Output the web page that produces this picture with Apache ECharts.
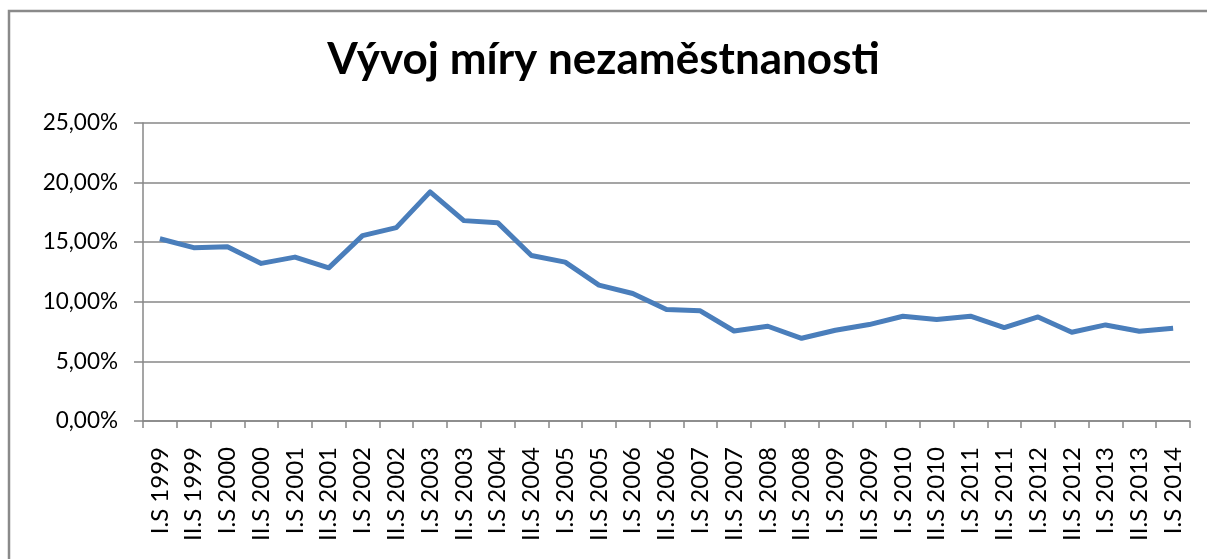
<!DOCTYPE html>
<html>
<head>
<meta charset="utf-8">
<script src="https://cdn.jsdelivr.net/npm/echarts@6/dist/echarts.min.js"></script>
<style>
html,body{margin:0;padding:0;background:#fff;}
#chart{width:1207px;height:559px;}
</style>
</head>
<body>
<div id="chart"></div>
<script>
const categories = [
  'I.S 1999','II.S 1999','I.S 2000','II.S 2000','I.S 2001','II.S 2001',
  'I.S 2002','II.S 2002','I.S 2003','II.S 2003','I.S 2004','II.S 2004',
  'I.S 2005','II.S 2005','I.S 2006','II.S 2006','I.S 2007','II.S 2007',
  'I.S 2008','II.S 2008','I.S 2009','II.S 2009','I.S 2010','II.S 2010',
  'I.S 2011','II.S 2011','I.S 2012','II.S 2012','I.S 2013','II.S 2013',
  'I.S 2014'
];
const unemployment = [
  15.29, 14.54, 14.62, 13.22, 13.75, 12.85,
  15.55, 16.22, 19.22, 16.81, 16.64, 13.88,
  13.33, 11.40, 10.70, 9.35, 9.24, 7.55,
  7.95, 6.94, 7.61, 8.09, 8.79, 8.51,
  8.79, 7.84, 8.73, 7.44, 8.06, 7.53,
  7.78
];
const yTicks = { min: 0, max: 25, interval: 5 };
const titleText = 'Vývoj míry nezaměstnanosti';

const chart = echarts.init(document.getElementById('chart'), null, {renderer: 'canvas'});
const gray = '#878787';
chart.setOption({
  animation: false,
  backgroundColor: '#ffffff',
  graphic: [{
    type: 'rect',
    shape: { x: 9, y: 11, width: 1210, height: 560 },
    style: { fill: 'none', stroke: '#8a8a8a', lineWidth: 2.5 },
    silent: true
  }],
  title: {
    text: titleText,
    left: 'center',
    top: 33,
    textStyle: { fontFamily: 'Lato', fontWeight: 'bold', fontSize: 44, color: '#000' }
  },
  grid: { left: 143, right: 17, top: 123, bottom: 138, containLabel: false },
  xAxis: {
    type: 'category',
    data: categories,
    boundaryGap: true,
    axisLine: { show: true, lineStyle: { color: gray, width: 1.5 } },
    axisTick: { show: true, length: 7, lineStyle: { color: gray, width: 1.5 } },
    axisLabel: {
      rotate: 90, interval: 0, margin: 26,
      fontFamily: 'Lato', fontSize: 24, color: '#000'
    }
  },
  yAxis: {
    type: 'value',
    min: yTicks.min, max: yTicks.max, interval: yTicks.interval,
    axisLine: { show: true, lineStyle: { color: gray, width: 1.5 } },
    axisTick: { show: true, length: 9, lineStyle: { color: gray, width: 1.5 } },
    splitLine: { show: true, lineStyle: { color: gray, width: 1.5 } },
    axisLabel: {
      margin: 25,
      fontFamily: 'Lato', fontSize: 22.5, color: '#000',
      formatter: v => v.toFixed(2).replace('.', ',') + '%'
    }
  },
  series: [{
    type: 'line',
    data: unemployment,
    showSymbol: false,
    symbol: 'none',
    lineStyle: { color: '#4a7ebb', width: 5, join: 'round' },
    itemStyle: { color: '#4a7ebb' }
  }]
});
</script>
</body>
</html>
